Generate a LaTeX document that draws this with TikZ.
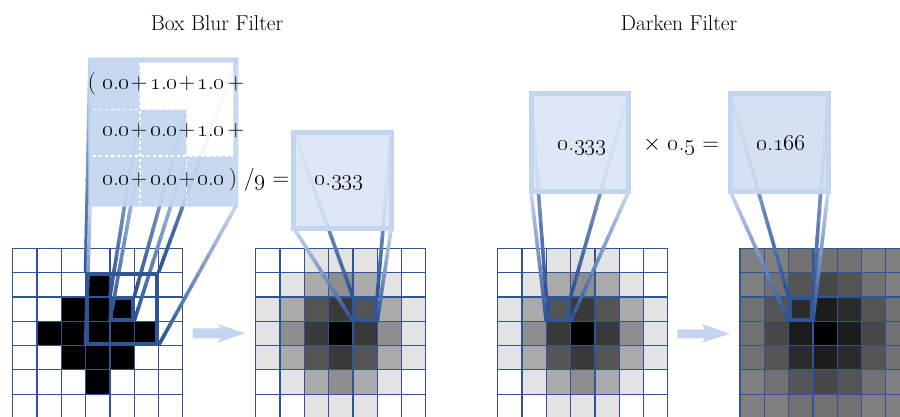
\documentclass[tikz,border=0pt]{standalone}
\usepackage{fix-cm}
\usetikzlibrary{calc}
\definecolor{gdark}{HTML}{2F5597}
\definecolor{glight}{HTML}{C2D3EE}
\definecolor{boxborder}{HTML}{C4D5EF}
\definecolor{boxfill}{HTML}{DAE4F5}
\definecolor{boxfillb}{HTML}{D0DDF2}
\definecolor{gridblue}{HTML}{2F5597}
\definecolor{arrowblue}{HTML}{C5D5EF}
\newcommand\osn[1]{\oldstylenums{#1}}
\newcommand\dnum[2]{\oldstylenums{#1}.\oldstylenums{#2}}
\tikzset{
  gridline/.style={draw=gridblue, line width=1.2pt},
  hilite/.style={draw=gdark, line width=3.5pt},
  gseg/.style={line width=3.6pt, line cap=butt},
  bigbox/.style={draw=boxborder, line width=5pt, fill=boxfill, fill opacity=0.88},
  numtxt/.style={inner sep=0pt, anchor=base, font=\fontsize{23}{26}\selectfont},
  titletxt/.style={inner sep=0pt, anchor=base, font=\fontsize{21.5}{24}\selectfont},
  blockarrow/.style={fill=arrowblue, draw=none},
}
% gradient connector: dark at #1 (grid), light at #2 (box)
\newcommand\gline[2]{%
  \foreach \i in {0,...,13}{%
    \pgfmathsetmacro\ta{\i/14}%
    \pgfmathsetmacro\tb{min(1,(\i+1.15)/14)}%
    \pgfmathsetmacro\pc{100-\i/13*100}%
    \draw[gseg, draw=gdark!\pc!glight] ($(#1)!\ta!(#2)$) -- ($(#1)!\tb!(#2)$);
  }}
% grid: #1 x0, #2 y0, #3 factor, #4 counts
\newcommand\cellgrid[4]{%
  \foreach \rowlist [count=\r from 0] in {#4} {%
    \foreach \c [count=\k from 0] in \rowlist {%
      \pgfmathsetmacro\pp{(9-\c)/9*#3}%
      \fill[white!\pp!black] ({#1+\k*24.3},{#2+\r*24.3}) rectangle +(24.3,24.3);
    }}%
  \foreach \i in {0,...,7} {%
    \draw[gridline] ({#1+\i*24.3},#2) -- +(0,170.1);
    \draw[gridline] (#1,{#2+\i*24.3}) -- +(170.1,0);
  }}
\begin{document}
\begin{tikzpicture}[x=1pt,y=-1pt]
\useasboundingbox (0,0) rectangle (900,416);
\clip (0,0) rectangle (900,416);
\fill[white] (0,0) rectangle (900,416);

% ---------- grids ----------
\cellgrid{12.7}{248.3}{100}{{0,0,0,0,0,0,0},{0,0,0,9,0,0,0},{0,0,9,9,9,0,0},{0,9,9,9,9,9,0},{0,0,9,9,9,0,0},{0,0,0,9,0,0,0},{0,0,0,0,0,0,0}}
\cellgrid{255.7}{248.3}{100}{{0,0,1,1,1,0,0},{0,1,3,4,3,1,0},{1,3,6,7,6,3,1},{1,4,7,9,7,4,1},{1,3,6,7,6,3,1},{0,1,3,4,3,1,0},{0,0,1,1,1,0,0}}
\cellgrid{497.7}{248.3}{100}{{0,0,1,1,1,0,0},{0,1,3,4,3,1,0},{1,3,6,7,6,3,1},{1,4,7,9,7,4,1},{1,3,6,7,6,3,1},{0,1,3,4,3,1,0},{0,0,1,1,1,0,0}}
\cellgrid{740}{248.3}{50}{{0,0,1,1,1,0,0},{0,1,3,4,3,1,0},{1,3,6,7,6,3,1},{1,4,7,9,7,4,1},{1,3,6,7,6,3,1},{0,1,3,4,3,1,0},{0,0,1,1,1,0,0}}

% ---------- named corners ----------
\coordinate (w1tl) at (85.6,272.6);  \coordinate (w1tr) at (158.5,272.6);
\coordinate (w1bl) at (85.6,345.5);  \coordinate (w1br) at (158.5,345.5);
\coordinate (c1tl) at (109.9,296.9); \coordinate (c1tr) at (134.2,296.9);
\coordinate (c1bl) at (109.9,321.2); \coordinate (c1br) at (134.2,321.2);
\coordinate (b1tl) at (90,59);   \coordinate (b1tr) at (236.5,59);
\coordinate (b1bl) at (90,205);  \coordinate (b1br) at (236.5,205);
\coordinate (m1tl) at (140,109.4); \coordinate (m1tr) at (186.6,109.4);
\coordinate (m1bl) at (140,156);   \coordinate (m1br) at (186.6,156);
\coordinate (c2tl) at (352.9,296.9); \coordinate (c2tr) at (377.2,296.9);
\coordinate (c2bl) at (352.9,321.2); \coordinate (c2br) at (377.2,321.2);
\coordinate (b2tl) at (293.7,132);   \coordinate (b2tr) at (391.3,132);
\coordinate (b2bl) at (293.7,228);   \coordinate (b2br) at (391.3,228);
\coordinate (c3tl) at (546.3,296.9); \coordinate (c3tr) at (570.6,296.9);
\coordinate (c3bl) at (546.3,321.2); \coordinate (c3br) at (570.6,321.2);
\coordinate (b3tl) at (531,93.7);    \coordinate (b3tr) at (628.7,93.7);
\coordinate (b3bl) at (531,191.3);   \coordinate (b3br) at (628.7,191.3);
\coordinate (c4tl) at (788.6,296.9); \coordinate (c4tr) at (812.9,296.9);
\coordinate (c4bl) at (788.6,321.2); \coordinate (c4br) at (812.9,321.2);
\coordinate (b4tl) at (730.3,93.7);  \coordinate (b4tr) at (828,93.7);
\coordinate (b4bl) at (730.3,191.3); \coordinate (b4br) at (828,191.3);

% ---------- connectors ----------
\gline{w1tl}{b1tl} \gline{w1tr}{b1tr} \gline{w1bl}{b1bl} \gline{w1br}{b1br}
\gline{c1tl}{m1tl} \gline{c1tr}{m1tr} \gline{c1bl}{m1bl} \gline{c1br}{m1br}
\gline{c2tl}{b2tl} \gline{c2tr}{b2tr} \gline{c2bl}{b2bl} \gline{c2br}{b2br}
\gline{c3tl}{b3tl} \gline{c3tr}{b3tr} \gline{c3bl}{b3bl} \gline{c3br}{b3br}
\gline{c4tl}{b4tl} \gline{c4tr}{b4tr} \gline{c4bl}{b4bl} \gline{c4br}{b4br}

% ---------- highlighted cells ----------
\draw[hilite] ($(w1tl)+(1.6,1.6)$) rectangle ($(w1br)+(-1.6,-1.6)$);
\draw[hilite] ($(c1tl)+(1.6,1.6)$) rectangle ($(c1br)+(-1.6,-1.6)$);
\draw[hilite] ($(c2tl)+(1.6,1.6)$) rectangle ($(c2br)+(-1.6,-1.6)$);
\draw[hilite] ($(c3tl)+(1.6,1.6)$) rectangle ($(c3br)+(-1.6,-1.6)$);
\draw[hilite] ($(c4tl)+(1.6,1.6)$) rectangle ($(c4br)+(-1.6,-1.6)$);

% ---------- box 1 (3x3 kernel) ----------
\fill[white, fill opacity=0.9] (140,62.7) rectangle (233.3,109.4)
  (186.6,109.4) rectangle (233.3,156);
\fill[boxborder, fill opacity=0.92, even odd rule] (88.3,57.3) rectangle (238.3,206.7)
  (140,62.7) -- (233.3,62.7) -- (233.3,156) -- (186.6,156) -- (186.6,109.4) -- (140,109.4) -- cycle;
\draw[white, dashed, line width=1.4pt] (140,62.7) -- (140,202.7);
\draw[white, dashed, line width=1.4pt] (186.6,62.7) -- (186.6,202.7);
\draw[white, dashed, line width=1.4pt] (93.3,109.4) -- (233.3,109.4);
\draw[white, dashed, line width=1.4pt] (93.3,156) -- (233.3,156);

% ---------- boxes 2-4 ----------
\draw[bigbox] (b2tl) rectangle (b2br);
\draw[bigbox] (b3tl) rectangle (b3br);
\draw[bigbox, fill=boxfillb] (b4tl) rectangle (b4br);

% ---------- texts ----------
\node[titletxt] (t1) at (217,30.7) {Box Blur Filter};
\node[titletxt] (t2) at (679,30.7) {Darken Filter};

\node[numtxt] (p0) at (92,89.3) {(};
\node[numtxt] (a1) at (116,89.3) {\dnum{0}{0}};
\node[numtxt] (a2) at (139,89.3) {+};
\node[numtxt] (a3) at (164,89.3) {\dnum{1}{0}};
\node[numtxt] (a4) at (187,89.3) {+};
\node[numtxt] (a5) at (211,89.3) {\dnum{1}{0}};
\node[numtxt] (a6) at (236,89.3) {+};

\node[numtxt] (b1) at (116,136.7) {\dnum{0}{0}};
\node[numtxt] (b2) at (139,136.7) {+};
\node[numtxt] (b3) at (164,136.7) {\dnum{0}{0}};
\node[numtxt] (b4) at (187,136.7) {+};
\node[numtxt] (b5) at (211,136.7) {\dnum{1}{0}};
\node[numtxt] (b6) at (236,136.7) {+};

\node[numtxt] (d1) at (116,185) {\dnum{0}{0}};
\node[numtxt] (d2) at (139,185) {+};
\node[numtxt] (d3) at (164,185) {\dnum{0}{0}};
\node[numtxt] (d4) at (187,185) {+};
\node[numtxt] (d5) at (211,185) {\dnum{0}{0}};
\node[numtxt] (d6) at (233,185) {)};
\node[numtxt, anchor=base west] (d7) at (244,185) {/\osn{9} =};

\node[numtxt] (v2) at (339,185) {\dnum{0}{333}};
\node[numtxt] (v3) at (582,150) {\dnum{0}{333}};
\node[numtxt] (op) at (681,150) {$\times$ \dnum{0}{5} =};
\node[numtxt] (v4) at (781,150) {\dnum{0}{166}};

% ---------- block arrows ----------
\fill[blockarrow] (192.7,328.3) -- (221,328.3) -- (217.5,324) -- (245,333.3)
  -- (217.5,342.7) -- (221,338.3) -- (192.7,338.3) -- cycle;
\fill[blockarrow] (677.3,329.3) -- (705,329.3) -- (701.7,324) -- (730,333.7)
  -- (701.7,342.7) -- (705,338.3) -- (677.3,338.3) -- cycle;
\end{tikzpicture}
\end{document}
